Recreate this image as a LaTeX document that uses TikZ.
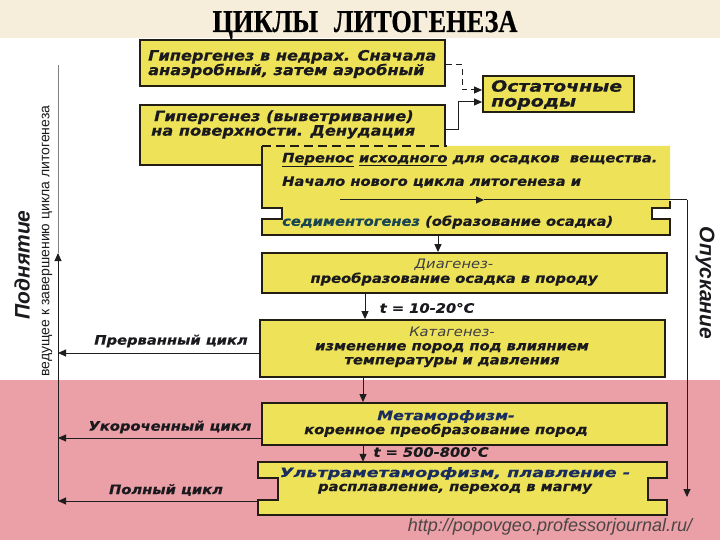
\documentclass[tikz,border=0pt]{standalone}
\usepackage{fontspec}
\usepackage{graphicx}
\setmainfont{Liberation Sans}
\newfontfamily\bxf{DejaVu Sans}[FakeStretch=1.13,FakeBold=0.5]
\newfontfamily\bxl{DejaVu Sans}[FakeStretch=1.13]
\newfontfamily\bxw{DejaVu Sans}[FakeStretch=1.22,FakeBold=0.5]
\newfontfamily\titf{Liberation Serif}[FakeBold=0.6]
\newfontfamily\lsf{Liberation Sans}
\usetikzlibrary{arrows.meta}
\definecolor{beige}{RGB}{246,237,218}
\definecolor{pinkbg}{RGB}{234,160,166}
\definecolor{boxy}{RGB}{238,226,88}
\definecolor{bordc}{RGB}{35,30,20}
\definecolor{txtc}{RGB}{25,25,30}
\definecolor{navy}{RGB}{25,45,95}
\definecolor{sedc}{RGB}{25,70,80}
\definecolor{headc}{RGB}{60,60,70}
\definecolor{linec}{RGB}{30,30,30}
\definecolor{urlc}{RGB}{75,70,70}
\begin{document}
\begin{tikzpicture}[x=1pt,y=-1pt,
  ybox/.style={draw=bordc, fill=boxy, line width=1.8pt, inner sep=0pt},
  ghost/.style={inner sep=0pt},
  tx/.style={font=\bxf\bfseries\itshape\fontsize{13}{14}\selectfont, text=txtc, inner sep=0pt, align=center},
  txb/.style={font=\bxf\bfseries\itshape\fontsize{14.3}{14.5}\selectfont, text=txtc, inner sep=0pt, align=left},
  txw/.style={font=\bxw\bfseries\itshape\fontsize{15.5}{15}\selectfont, text=txtc, inner sep=0pt, align=left},
  arr/.style={draw=linec, line width=1pt, -{Triangle[length=8pt,width=7pt]}},
  conn/.style={draw=linec, line width=1pt},
  side/.style={font=\lsf\bfseries\itshape\fontsize{21}{24}\selectfont, text=txtc, inner sep=0pt}
]
\useasboundingbox (0,0) rectangle (720,540);
% backgrounds
\fill[beige] (0,0) rectangle (720,38);
\fill[white] (0,38) rectangle (720,380);
\fill[pinkbg] (0,380) rectangle (720,540);

% title
\node[anchor=base, inner sep=0pt] (title) at (365,32) {\resizebox{305pt}{21pt}{\titf\bfseries ЦИКЛЫ\hspace{0.6em}ЛИТОГЕНЕЗА}};

% top boxes
\node[ybox, minimum width=305pt, minimum height=46pt] (b1) at (292.5,63) {};
\node[txb, anchor=west] (b1t) at (148,64) {Гипергенез в недрах. Сначала\\анаэробный, затем аэробный};
\node[ybox, minimum width=305pt, minimum height=60pt] (b2) at (292.5,135) {};
\node[txb, anchor=west] (b2t) at (151,124.5) {\hspace{3pt}Гипергенез (выветривание)\\на поверхности. Денудация};
\node[ybox, minimum width=151pt, minimum height=36pt] (ost) at (558.5,94) {};
\node[txw, anchor=west] (ostt) at (491,95) {Остаточные\\породы};

% big notched box
\fill[boxy] (262,146) -- (670,146) -- (670,208) -- (652,208) -- (652,219) -- (670,219) -- (670,235) -- (262,235) -- (262,219) -- (282,219) -- (282,208) -- (262,208) -- cycle;
\draw[bordc, line width=1.8pt, line join=miter] (670,201) -- (670,208) -- (652,208) -- (652,219) -- (670,219) -- (670,235) -- (262,235) -- (262,219) -- (282,219) -- (282,208) -- (262,208) -- (262,146);
\draw[bordc, line width=1.5pt, dash pattern=on 9pt off 5pt] (262,146) -- (447,146);
\node[ghost, minimum width=408pt, minimum height=89pt] (big) at (466,190.5) {};
\node[tx, anchor=west] (bigt1) at (282,160) {\underline{Перенос} \underline{исходного} для осадков\ \ вещества.};
\node[tx, anchor=west] (bigt2) at (282,182) {Начало нового цикла литогенеза и};
\node[tx, anchor=west] (bigt3) at (282,222) {\textcolor{sedc}{седиментогенез} (образование осадка)};

% process boxes
\node[ybox, minimum width=405pt, minimum height=40pt] (dia) at (464.5,273) {};
\node[tx] (diat) at (454,272.5) {{\bxl\mdseries\color{headc}Диагенез-}\\преобразование осадка в породу};
\node[ybox, minimum width=405pt, minimum height=57pt] (kat) at (462.5,348.5) {};
\node[tx] (katt) at (452,347) {{\bxl\mdseries\color{headc}Катагенез-}\\изменение пород под влиянием\\температуры и давления};
\node[ybox, minimum width=405pt, minimum height=42pt] (met) at (464.5,424) {};
\node[tx] (mett) at (446,423.5) {\textcolor{navy}{\scalebox{1.08}[1]{Метаморфизм-}}\\коренное преобразование пород};

\fill[boxy] (258,462) -- (667,462) -- (667,478) -- (648,478) -- (648,500) -- (667,500) -- (667,515) -- (258,515) -- (258,500) -- (278,500) -- (278,478) -- (258,478) -- cycle;
\draw[bordc, line width=1.8pt, line join=miter] (258,462) -- (667,462) -- (667,478) -- (648,478) -- (648,500) -- (667,500) -- (667,515) -- (258,515) -- (258,500) -- (278,500) -- (278,478) -- (258,478) -- cycle;
\node[ghost, minimum width=409pt, minimum height=53pt] (ult) at (462.5,488.5) {};
\node[tx] (ultt) at (455,480.5) {\textcolor{navy}{\scalebox{1.2}[1]{Ультраметаморфизм, плавление -}}\\расплавление, переход в магму};

% temperature labels
\node[tx] (t1) at (427,308) {t = 10-20°C};
\node[tx] (t2) at (431,452) {t = 500-800°C};

% vertical flow arrows
\coordinate (ax1) at (438,0);
\coordinate (ax2) at (365,0);
\coordinate (ax3) at (363,0);
\draw[arr] (big.south -| ax1) -- (dia.north -| ax1);
\draw[arr] (dia.south -| ax2) -- (kat.north -| ax2);
\draw[arr] (kat.south -| ax3) -- (met.north -| ax3);
\draw[arr] (met.south -| ax3) -- (ult.north -| ax3);

% top connectors to residual rocks
\coordinate (d1) at (462,65);
\coordinate (d2) at (483,90);
\draw[arr, dash pattern=on 6pt off 4pt] (b1.east |- d1) -- (d1) |- (ost.west |- d2);
\coordinate (s1) at (458,130);
\coordinate (s2) at (483,102);
\draw[arr] (b2.east |- s1) -- (s1) |- (ost.west |- s2);

% right descent line
\coordinate (R0) at (340,200);
\coordinate (Rm) at (484,200);
\coordinate (R1) at (687,200);
\coordinate (R2) at (687,497);
\draw[arr] (R0) -- (Rm);
\draw[conn] (Rm) -- (R1);
\draw[arr] (R1) -- (R2);
\node[side, rotate=-90] (opusk) at (705,283) {Опускание};

% left uplift line
\coordinate (L1) at (58,353);
\coordinate (L2) at (58,438);
\coordinate (L3) at (58,501);
\coordinate (Lup) at (58,253);
\coordinate (Ltop) at (58,65);
\draw[arr] (L1 -| kat.west) -- (L1);
\draw[arr] (L2 -| met.west) -- (L2);
\draw[arr] (L3 -| ult.west) -- (L3);
\draw[arr] (L3) -- (Lup);
\draw[draw=gray, line width=0.7pt] (Lup) -- (Ltop);
\node[tx] (lab1) at (171,341) {Прерванный цикл};
\node[tx] (lab2) at (170,427) {Укороченный цикл};
\node[tx] (lab3) at (166,490) {Полный цикл};
\node[side, rotate=90] (podn) at (22,265) {Поднятие};
\node[rotate=90, inner sep=0pt, font=\lsf\fontsize{14}{16}\selectfont, text=txtc] (ved) at (47,241) {ведущее к завершению цикла литогенеза};

% url
\node[inner sep=0pt, font=\lsf\itshape\fontsize{18}{20}\selectfont, text=urlc] (url) at (550,527) {http://popovgeo.professorjournal.ru/};
\end{tikzpicture}
\end{document}
